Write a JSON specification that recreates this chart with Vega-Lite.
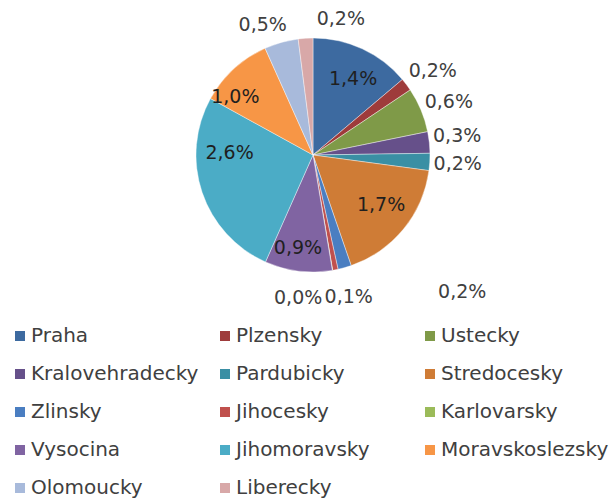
{
  "$schema": "https://vega.github.io/schema/vega-lite/v6.json",
  "width": 596,
  "height": 310,
  "padding": {"left": 10, "top": 0, "right": 0, "bottom": 0},
  "background": "white",
  "config": {
    "view": {"stroke": null},
    "locale": {"number": {"decimal": ",", "thousands": " ", "grouping": [3], "currency": ["", " Kč"]}}
  },
  "data": {
    "values": [
      {"idx": 1, "region": "Praha", "share": 0.0137},
      {"idx": 2, "region": "Plzensky", "share": 0.00176},
      {"idx": 3, "region": "Ustecky", "share": 0.00613},
      {"idx": 4, "region": "Kralovehradecky", "share": 0.00294},
      {"idx": 5, "region": "Pardubicky", "share": 0.00234},
      {"idx": 6, "region": "Stredocesky", "share": 0.01741},
      {"idx": 7, "region": "Zlinsky", "share": 0.00184},
      {"idx": 8, "region": "Jihocesky", "share": 0.00074},
      {"idx": 9, "region": "Karlovarsky", "share": 0.00004},
      {"idx": 10, "region": "Vysocina", "share": 0.00921},
      {"idx": 11, "region": "Jihomoravsky", "share": 0.0261},
      {"idx": 12, "region": "Moravskoslezsky", "share": 0.01018},
      {"idx": 13, "region": "Olomoucky", "share": 0.00465},
      {"idx": 14, "region": "Liberecky", "share": 0.002}
    ]
  },
  "layer": [
    {
      "mark": {"type": "arc", "outerRadius": 117, "stroke": "white", "strokeWidth": 0.4},
      "encoding": {
        "theta": {"field": "share", "type": "quantitative", "stack": true},
        "order": {"field": "idx", "type": "quantitative"},
        "color": {
          "field": "region",
          "type": "nominal",
          "scale": {
            "domain": ["Praha", "Plzensky", "Ustecky", "Kralovehradecky", "Pardubicky", "Stredocesky", "Zlinsky", "Jihocesky", "Karlovarsky", "Vysocina", "Jihomoravsky", "Moravskoslezsky", "Olomoucky", "Liberecky"],
            "range": ["#3D6AA0", "#9E3B3B", "#7F9A48", "#66508A", "#3A8FA4", "#CF7C36", "#4A7EC1", "#C0504D", "#9BBB59", "#8064A2", "#4BACC6", "#F79646", "#A8BADB", "#D8A8A8"]
          },
          "legend": {
            "orient": "none",
            "legendX": -5,
            "legendY": 326,
            "title": null,
            "columns": 3,
            "direction": "horizontal",
            "gridAlign": "all",
            "columnPadding": 16,
            "rowPadding": 18,
            "symbolType": "square",
            "symbolSize": 100,
            "symbolStrokeWidth": 0,
            "labelFont": "DejaVu Sans",
            "labelFontSize": 20,
            "labelColor": "#404040",
            "labelOffset": 1,
            "labelLimit": 400
          }
        }
      }
    },
    {
      "mark": {
        "type": "text",
        "font": "DejaVu Sans",
        "fontSize": 19,
        "radius": {"expr": "datum.share >= 0.009 ? 88 : 145"},
        "dx": {"expr": "datum.region==='Zlinsky'?110:datum.region==='Jihocesky'?8:datum.region==='Karlovarsky'?-39:datum.region==='Olomoucky'?-11:datum.region==='Liberecky'?37:datum.region==='Moravskoslezsky'?-18:datum.region==='Vysocina'?-4:datum.region==='Praha'?3:datum.region==='Plzensky'?4:datum.region==='Ustecky'?2:0"},
        "dy": {"expr": "datum.region==='Zlinsky'?-3:datum.region==='Olomoucky'?10:datum.region==='Liberecky'?9:datum.region==='Moravskoslezsky'?7:datum.region==='Jihomoravsky'?-30:datum.region==='Stredocesky'?-6:datum.region==='Vysocina'?6:datum.region==='Praha'?4:datum.region==='Plzensky'?3:datum.region==='Ustecky'?3:datum.region==='Kralovehradecky'?-3:0"}
      },
      "encoding": {
        "theta": {"field": "share", "type": "quantitative", "stack": true},
        "order": {"field": "idx", "type": "quantitative"},
        "text": {"field": "share", "type": "quantitative", "format": ".1%"},
        "color": {"condition": {"test": "datum.share >= 0.009", "value": "#1f1f1f"}, "value": "#404040"}
      }
    }
  ]
}
